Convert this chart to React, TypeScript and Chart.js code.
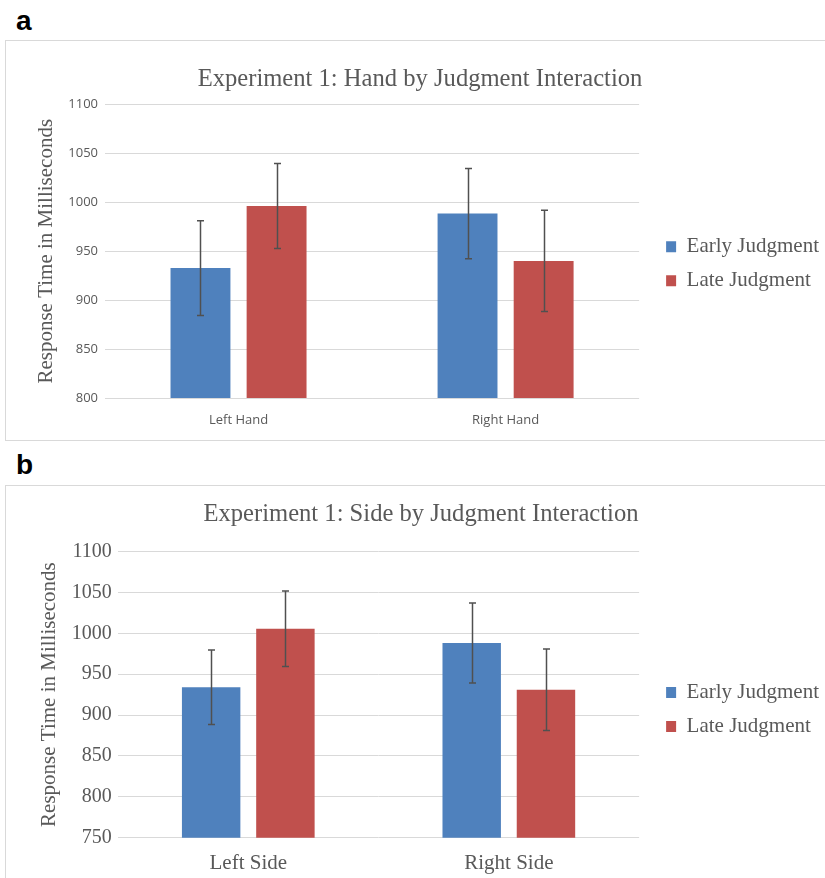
import React, { useEffect, useRef } from "react";
import { Chart, registerables } from "chart.js";

Chart.register(...registerables);

// ---- Data ----
const seriesLabels = ["Early Judgment", "Late Judgment"];
const seriesColors = ["#4f81bd", "#c0504d"];

const titleA = "Experiment 1: Hand by Judgment Interaction";
const categoriesA = ["Left Hand", "Right Hand"];
const earlyA = [932.8, 988.5];
const lateA = [996.3, 940.1];
const earlyErrA = [48.4, 46.1];
const lateErrA = [43.5, 51.7];
const yMinA = 800;
const yMaxA = 1100;
const yStepA = 50;

const titleB = "Experiment 1: Side by Judgment Interaction";
const categoriesB = ["Left Side", "Right Side"];
const earlyB = [934.0, 988.1];
const lateB = [1005.5, 931.0];
const earlyErrB = [45.5, 48.8];
const lateErrB = [46.1, 49.9];
const yMinB = 750;
const yMaxB = 1100;
const yStepB = 50;

const yAxisTitle = "Response Time in Milliseconds";

const SERIF = "'Liberation Serif', 'Times New Roman', serif";
const SANS = "'Open Sans', 'Liberation Sans', sans-serif";
const TEXT = "#595959";
const GRID = "#d9d9d9";

const errorBarPlugin = {
  id: "errorBars",
  afterDatasetsDraw(chart: any) {
    const { ctx } = chart;
    const y = chart.scales.y;
    chart.data.datasets.forEach((ds: any, i: number) => {
      const meta = chart.getDatasetMeta(i);
      meta.data.forEach((bar: any, j: number) => {
        const v = ds.data[j];
        const e = ds.errors[j];
        const top = y.getPixelForValue(v + e);
        const bot = y.getPixelForValue(v - e);
        const x = Math.round(bar.x) + 0.5;
        ctx.save();
        ctx.strokeStyle = "#505050";
        ctx.lineWidth = 1.5;
        ctx.beginPath();
        ctx.moveTo(x, top);
        ctx.lineTo(x, bot);
        ctx.moveTo(x - 3.5, top);
        ctx.lineTo(x + 3.5, top);
        ctx.moveTo(x - 3.5, bot);
        ctx.lineTo(x + 3.5, bot);
        ctx.stroke();
        ctx.restore();
      });
    });
  },
};

// Nudges the built-in legend box after layout (offset from the plot area).
const legendShiftPlugin = {
  id: "legendShift",
  afterLayout(chart: any, _args: any, opts: any) {
    const lg = chart.legend;
    if (!lg) return;
    const dx = opts.dx || 0;
    const dy = opts.dy || 0;
    lg.left += dx;
    lg.right += dx;
    lg.top += dy;
    lg.bottom += dy;
  },
};

type PanelProps = {
  width: number;
  height: number;
  title: string;
  categories: string[];
  early: number[];
  late: number[];
  earlyErr: number[];
  lateErr: number[];
  yMin: number;
  yMax: number;
  yStep: number;
  tickFont: any;
  xFont: any;
  padL: number;
  padR: number;
  titlePad: { top: number; bottom: number };
  yAxisWidth: number;
  yTitlePad: number;
  yTickPad: number;
  xAxisHeight: number;
  xTickPad: number;
  legendDx: number;
  legendDy: number;
};

function BarPanel(p: PanelProps) {
  const ref = useRef<HTMLCanvasElement | null>(null);
  useEffect(() => {
    if (!ref.current) return;
    const chart = new Chart(ref.current, {
      type: "bar",
      data: {
        labels: p.categories,
        datasets: [
          {
            label: seriesLabels[0],
            data: p.early,
            errors: p.earlyErr,
            backgroundColor: seriesColors[0],
            categoryPercentage: 0.57,
            barPercentage: 0.787,
          } as any,
          {
            label: seriesLabels[1],
            data: p.late,
            errors: p.lateErr,
            backgroundColor: seriesColors[1],
            categoryPercentage: 0.57,
            barPercentage: 0.787,
          } as any,
        ],
      },
      options: {
        animation: false,
        responsive: false,
        maintainAspectRatio: false,
        layout: { padding: { left: p.padL, right: p.padR, top: 0, bottom: 0 } },
        plugins: {
          tooltip: { enabled: false },
          legendShift: { dx: p.legendDx, dy: p.legendDy },
          title: {
            display: true,
            text: p.title,
            color: TEXT,
            font: { family: SERIF, size: 24.6, weight: "normal" as any, lineHeight: 1.2 },
            padding: p.titlePad,
          },
          legend: {
            display: true,
            position: "right",
            align: "center",
            fullSize: false,
            labels: {
              color: TEXT,
              font: { family: SERIF, size: 21, lineHeight: 1.2 },
              boxWidth: 10,
              boxHeight: 11,
              padding: 13,
            },
          },
        },
        scales: {
          x: {
            grid: { display: false, drawTicks: false },
            border: { display: false },
            ticks: { color: TEXT, font: p.xFont, padding: p.xTickPad },
            afterFit: (s: any) => {
              s.height = p.xAxisHeight;
            },
          },
          y: {
            min: p.yMin,
            max: p.yMax,
            grid: { color: GRID, lineWidth: 1, drawTicks: false },
            border: { display: false },
            ticks: {
              stepSize: p.yStep,
              color: TEXT,
              font: p.tickFont,
              padding: p.yTickPad,
              callback: (v: any) => String(v),
            },
            title: {
              display: true,
              text: yAxisTitle,
              color: TEXT,
              font: { family: SERIF, size: 21, lineHeight: 1.2 },
              padding: { top: p.yTitlePad, bottom: 0 },
            },
            afterFit: (s: any) => {
              s.width = p.yAxisWidth;
            },
          },
        },
      } as any,
      plugins: [errorBarPlugin, legendShiftPlugin],
    });
    return () => chart.destroy();
  }, []);
  return <canvas ref={ref} width={p.width} height={p.height} style={{ display: "block" }} />;
}

const panelLetter: React.CSSProperties = {
  position: "absolute",
  left: 16,
  fontFamily: "'Liberation Sans', Arial, sans-serif",
  fontWeight: "bold",
  fontSize: 28,
  lineHeight: "28px",
  color: "#000",
};

export default function App() {
  return (
    <div
      style={{
        position: "absolute",
        left: 0,
        top: 0,
        width: 825,
        height: 878,
        overflow: "hidden",
        background: "#fff",
      }}
    >
      <div style={{ ...panelLetter, top: 7 }}>a</div>
      <div
        style={{
          position: "absolute",
          left: 5,
          top: 40,
          width: 830,
          height: 399,
          border: `1px solid ${GRID}`,
        }}
      >
        <BarPanel
          width={830}
          height={399}
          title={titleA}
          categories={categoriesA}
          early={earlyA}
          late={lateA}
          earlyErr={earlyErrA}
          lateErr={lateErrA}
          yMin={yMinA}
          yMax={yMaxA}
          yStep={yStepA}
          tickFont={{ family: SANS, size: 13, lineHeight: 1.2 }}
          xFont={{ family: SANS, size: 13, lineHeight: 1.2 }}
          padL={19}
          padR={21}
          titlePad={{ top: 23.6, bottom: 10.4 }}
          yAxisWidth={80}
          yTitlePad={8.5}
          yTickPad={7}
          xAxisHeight={42}
          xTickPad={14}
          legendDx={14}
          legendDy={12.5}
        />
      </div>
      <div style={{ ...panelLetter, top: 451 }}>b</div>
      <div
        style={{
          position: "absolute",
          left: 5,
          top: 485,
          width: 830,
          height: 400,
          border: `1px solid ${GRID}`,
        }}
      >
        <BarPanel
          width={830}
          height={400}
          title={titleB}
          categories={categoriesB}
          early={earlyB}
          late={lateB}
          earlyErr={earlyErrB}
          lateErr={lateErrB}
          yMin={yMinB}
          yMax={yMaxB}
          yStep={yStepB}
          tickFont={{ family: SERIF, size: 20, lineHeight: 1.2 }}
          xFont={{ family: SERIF, size: 21, lineHeight: 1.2 }}
          padL={21}
          padR={21}
          titlePad={{ top: 14, bottom: 22 }}
          yAxisWidth={91}
          yTitlePad={10}
          yTickPad={6.3}
          xAxisHeight={48.3}
          xTickPad={13}
          legendDx={14}
          legendDy={15}
        />
      </div>
    </div>
  );
}
